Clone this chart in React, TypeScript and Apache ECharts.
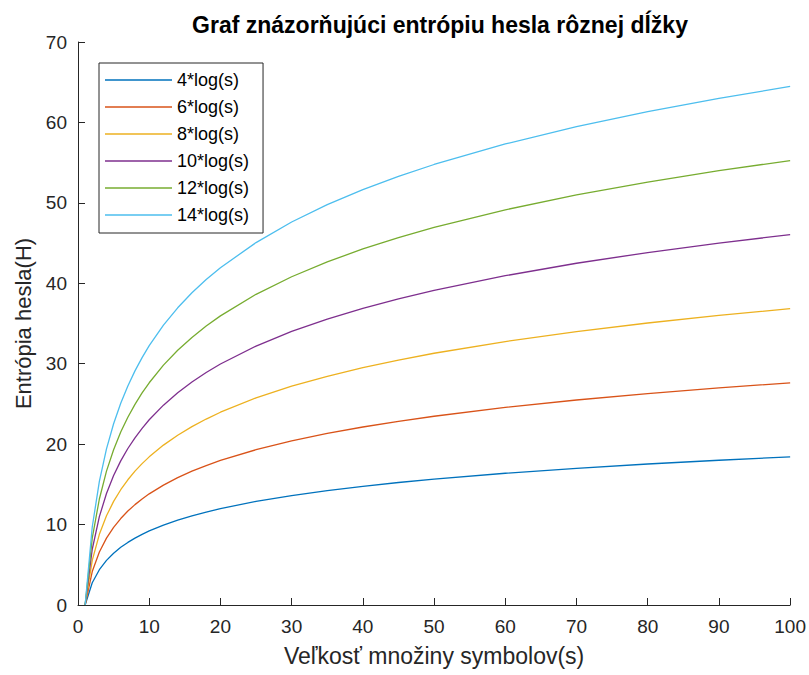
import React, { useEffect, useRef } from "react";
import * as echarts from "echarts";

const sValues = [1, 2, 3, 4, 5, 6, 7, 8, 9, 10, 12, 14, 16, 18, 20, 25, 30, 35, 40, 45, 50, 60, 70, 80, 90, 100];

const s4 = [0, 2.77, 4.39, 5.55, 6.44, 7.17, 7.78, 8.32, 8.79, 9.21, 9.94, 10.56, 11.09, 11.56, 11.98, 12.88, 13.6, 14.22, 14.76, 15.23, 15.65, 16.38, 16.99, 17.53, 18.0, 18.42];
const s6 = [0, 4.16, 6.59, 8.32, 9.66, 10.75, 11.68, 12.48, 13.18, 13.82, 14.91, 15.83, 16.64, 17.34, 17.97, 19.31, 20.41, 21.33, 22.13, 22.84, 23.47, 24.57, 25.49, 26.29, 27.0, 27.63];
const s8 = [0, 5.55, 8.79, 11.09, 12.88, 14.33, 15.57, 16.64, 17.58, 18.42, 19.88, 21.11, 22.18, 23.12, 23.97, 25.75, 27.21, 28.44, 29.51, 30.45, 31.3, 32.75, 33.99, 35.06, 36.0, 36.84];
const s10 = [0, 6.93, 10.99, 13.86, 16.09, 17.92, 19.46, 20.79, 21.97, 23.03, 24.85, 26.39, 27.73, 28.9, 29.96, 32.19, 34.01, 35.55, 36.89, 38.07, 39.12, 40.94, 42.49, 43.82, 45.0, 46.05];
const s12 = [0, 8.32, 13.18, 16.64, 19.31, 21.5, 23.35, 24.95, 26.37, 27.63, 29.82, 31.67, 33.27, 34.68, 35.95, 38.63, 40.81, 42.66, 44.27, 45.68, 46.94, 49.13, 50.98, 52.58, 54.0, 55.26];
const s14 = [0, 9.7, 15.38, 19.41, 22.53, 25.08, 27.24, 29.11, 30.76, 32.24, 34.79, 36.95, 38.82, 40.47, 41.94, 45.06, 47.62, 49.77, 51.64, 53.29, 54.77, 57.32, 59.48, 61.35, 63.0, 64.47];

const seriesNames = ["4*log(s)", "6*log(s)", "8*log(s)", "10*log(s)", "12*log(s)", "14*log(s)"];
const seriesData = [s4, s6, s8, s10, s12, s14];
const colors = ["#0072BD", "#D95319", "#EDB120", "#7E2F8E", "#77AC30", "#4DBEEE"];

const xTicks = { min: 0, max: 100, interval: 10 };
const yTicks = { min: 0, max: 70, interval: 10 };

export default function App() {
  const ref = useRef<HTMLDivElement>(null);
  useEffect(() => {
    if (!ref.current) return;
    const chart = echarts.init(ref.current, undefined, { renderer: "svg" });
    const font = "'Liberation Sans', Arial, Helvetica, sans-serif";
    const axisColor = "#262626";
    chart.setOption({
      animation: false,
      backgroundColor: "#ffffff",
      textStyle: { fontFamily: font },
      title: {
        text: "Graf znázorňujúci entrópiu hesla rôznej dĺžky",
        left: 435,
        textAlign: "center",
        top: 8,
        textStyle: { fontFamily: font, fontSize: 23, fontWeight: "bold", color: "#000000" },
      },
      grid: { left: 78, right: 16, top: 42, bottom: 70, containLabel: false },
      legend: {
        orient: "vertical",
        left: 99,
        top: 63,
        padding: [8, 14, 9, 6],
        itemWidth: 67,
        itemHeight: 14,
        itemGap: 9.0,
        borderColor: axisColor,
        borderWidth: 1,
        backgroundColor: "#ffffff",
        textStyle: { fontFamily: font, fontSize: 18, color: "#000000" },
        data: seriesNames.map((n) => ({ name: n, icon: "path://M0,0H100V2H0Z" })),
      },
      xAxis: {
        type: "value",
        min: xTicks.min,
        max: xTicks.max,
        interval: xTicks.interval,
        name: "Veľkosť množiny symbolov(s)",
        nameLocation: "middle",
        nameGap: 39,
        nameTextStyle: { fontFamily: font, fontSize: 23, color: axisColor },
        axisLine: { show: true, lineStyle: { color: axisColor, width: 1 } },
        axisTick: { show: true, inside: true, length: 7, lineStyle: { color: axisColor } },
        axisLabel: { fontFamily: font, fontSize: 19, color: axisColor, margin: 12 },
        splitLine: { show: false },
      },
      yAxis: {
        type: "value",
        min: yTicks.min,
        max: yTicks.max,
        interval: yTicks.interval,
        name: "Entrópia hesla(H)",
        nameLocation: "middle",
        nameGap: 38,
        nameTextStyle: { fontFamily: font, fontSize: 22, color: axisColor },
        axisLine: { show: true, lineStyle: { color: axisColor, width: 1 } },
        axisTick: { show: true, inside: true, length: 7, lineStyle: { color: axisColor } },
        axisLabel: { fontFamily: font, fontSize: 19, color: axisColor, margin: 11 },
        splitLine: { show: false },
      },
      series: seriesNames.map((name, i) => ({
        name,
        type: "line",
        symbol: "none",
        smooth: false,
        color: colors[i],
        lineStyle: { color: colors[i], width: 1.3 },
        itemStyle: { color: colors[i] },
        data: sValues.map((s, j) => [s, seriesData[i][j]]),
      })),
    });
    return () => chart.dispose();
  }, []);
  return <div ref={ref} style={{ width: 809, height: 675, position: "absolute", left: 0, top: 0 }} />;
}
